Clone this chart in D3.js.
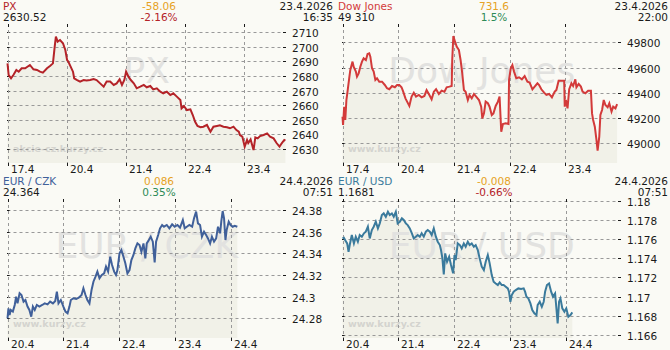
<!DOCTYPE html>
<html>
<head>
<meta charset="utf-8">
<script src="https://cdn.jsdelivr.net/npm/d3@7"></script>
<style>
  body { margin: 0; background: #fafaf5; }
  svg { display: block; font-family: "DejaVu Sans", Verdana, sans-serif; }
</style>
</head>
<body>
<script>
// --- data ---
// PX: time in trading sessions since 17.4, value in points
const pxPoints = [
  [0, 2688.7], [0.02, 2680.7], [0.06, 2678.5], [0.10, 2680.7], [0.15, 2684.2], [0.19, 2683.0], [0.24, 2685.3],
  [0.30, 2685.3], [0.38, 2687.6], [0.44, 2684.6], [0.50, 2684.2], [0.55, 2683.0], [0.60, 2682.3], [0.67, 2685.3],
  [0.72, 2686.9], [0.77, 2688.7], [0.80, 2700.2], [0.82, 2707.0], [0.85, 2703.6], [0.89, 2704.7], [0.94, 2702.5],
  [0.98, 2697.9],
  [1.01, 2691.0], [1.03, 2689.9], [1.07, 2686.5], [1.11, 2683.0], [1.13, 2678.5], [1.18, 2677.3], [1.23, 2676.2],
  [1.29, 2677.3], [1.34, 2676.9], [1.40, 2677.3], [1.46, 2678.0], [1.51, 2677.3], [1.57, 2675.0], [1.63, 2672.7],
  [1.68, 2676.2], [1.74, 2676.2], [1.80, 2673.9], [1.85, 2675.0], [1.90, 2677.8], [1.94, 2673.9], [1.98, 2677.3],
  [2.01, 2683.0], [2.05, 2679.6], [2.09, 2677.3], [2.14, 2675.0], [2.19, 2671.6], [2.25, 2672.7], [2.31, 2673.9],
  [2.36, 2672.3], [2.42, 2673.2], [2.47, 2670.9], [2.53, 2671.6], [2.59, 2669.3], [2.64, 2668.2], [2.70, 2669.3],
  [2.76, 2667.0], [2.81, 2668.2], [2.87, 2665.9], [2.93, 2663.6],
  [2.95, 2657.9], [2.99, 2659.5], [3.04, 2656.7], [3.10, 2657.2], [3.14, 2653.3], [3.18, 2648.7], [3.22, 2645.8],
  [3.27, 2644.9], [3.32, 2645.3], [3.38, 2646.5], [3.44, 2641.9], [3.49, 2645.3], [3.55, 2645.8], [3.60, 2646.2],
  [3.66, 2645.3], [3.72, 2644.9], [3.77, 2644.2], [3.83, 2645.3], [3.88, 2643.0], [3.92, 2641.9], [3.94, 2639.6],
  [3.98, 2638.5],
  [4.02, 2631.6], [4.06, 2636.2], [4.08, 2634.1], [4.12, 2636.6], [4.17, 2629.3], [4.20, 2638.0], [4.24, 2637.3],
  [4.28, 2638.9], [4.34, 2639.6], [4.40, 2640.7], [4.45, 2638.5], [4.51, 2637.3], [4.56, 2634.1], [4.61, 2631.6],
  [4.65, 2634.1], [4.69, 2636.2], [4.71, 2635.7]
];

// Dow Jones: time in sessions since 17.4
const dowPoints = [
  [0, 49211], [0.01, 49145], [0.03, 49290], [0.05, 49185], [0.07, 49343], [0.09, 49409], [0.12, 49515],
  [0.14, 49581], [0.18, 49647], [0.20, 49607], [0.24, 49568], [0.26, 49528], [0.29, 49554], [0.32, 49607],
  [0.35, 49647], [0.38, 49673], [0.42, 49660], [0.45, 49708], [0.48, 49713], [0.50, 49686], [0.53, 49594],
  [0.56, 49568], [0.59, 49502], [0.62, 49515], [0.66, 49488], [0.71, 49488], [0.76, 49462], [0.80, 49436],
  [0.84, 49428], [0.89, 49454], [0.94, 49444], [0.98, 49462],
  [1.02, 49462], [1.06, 49444], [1.09, 49409], [1.13, 49356], [1.16, 49330], [1.20, 49296], [1.24, 49370],
  [1.28, 49401], [1.32, 49370], [1.37, 49383], [1.42, 49364], [1.47, 49375], [1.51, 49422], [1.55, 49391],
  [1.60, 49349], [1.64, 49409], [1.68, 49428], [1.73, 49391], [1.78, 49417], [1.83, 49409], [1.87, 49444],
  [1.92, 49449], [1.96, 49454],
  [1.97, 49660], [1.99, 49850], [2.02, 49805], [2.05, 49766], [2.09, 49739], [2.12, 49660], [2.15, 49554],
  [2.18, 49422], [2.21, 49409], [2.25, 49343], [2.28, 49383], [2.32, 49356], [2.36, 49391], [2.40, 49370],
  [2.45, 49343], [2.49, 49290], [2.51, 49198], [2.54, 49237], [2.57, 49330], [2.61, 49317], [2.64, 49290],
  [2.68, 49224], [2.71, 49237], [2.75, 49296], [2.79, 49330], [2.82, 49370], [2.85, 49092], [2.88, 49153],
  [2.93, 49158], [2.98, 49153],
  [2.99, 49502], [3.02, 49594], [3.05, 49620], [3.08, 49568], [3.12, 49515], [3.17, 49523], [3.22, 49507],
  [3.27, 49533], [3.32, 49488], [3.36, 49481], [3.41, 49428], [3.45, 49449], [3.50, 49475], [3.53, 49462],
  [3.57, 49428], [3.62, 49401], [3.66, 49383], [3.71, 49391], [3.76, 49364], [3.81, 49409], [3.84, 49422],
  [3.88, 49496], [3.93, 49496], [3.98, 49496],
  [3.99, 49290], [4.01, 49343], [4.04, 49277], [4.07, 49428], [4.11, 49475], [4.14, 49454], [4.18, 49507],
  [4.20, 49444], [4.24, 49470], [4.28, 49449], [4.31, 49409], [4.36, 49396], [4.41, 49417], [4.46, 49417],
  [4.48, 49237], [4.50, 49185], [4.53, 49132], [4.56, 49026], [4.58, 48942], [4.61, 49053], [4.63, 49224],
  [4.66, 49264], [4.69, 49343], [4.72, 49303], [4.76, 49285], [4.79, 49317], [4.83, 49251], [4.86, 49290],
  [4.90, 49277], [4.93, 49311]
];

// EUR/CZK: time in hours since 20.4 00:00
const czkPoints = [
  [0, 24.2800], [0.4, 24.2892], [0.9, 24.2831], [1.4, 24.2877], [2.3, 24.2862], [3.1, 24.2923], [3.7, 24.3000],
  [4.3, 24.2938], [5.2, 24.3031], [6.0, 24.3015], [6.9, 24.2954], [7.7, 24.2969], [8.6, 24.2908], [9.4, 24.2877],
  [10.2, 24.2815], [10.9, 24.2908], [11.7, 24.2877], [12.6, 24.2923], [13.7, 24.2908], [14.9, 24.2923],
  [16.0, 24.2938], [17.2, 24.2929], [18.3, 24.2954], [19.5, 24.2938], [20.5, 24.2960], [21.2, 24.3046],
  [21.9, 24.2938], [22.9, 24.2969],
  [24.0, 24.2908], [24.9, 24.2862], [25.8, 24.2846], [26.6, 24.2908], [27.2, 24.2969], [28.3, 24.2985],
  [29.5, 24.2978], [30.6, 24.2991], [31.8, 24.3015], [32.6, 24.3077], [33.5, 24.3015], [34.3, 24.2969],
  [35.2, 24.2938], [36.1, 24.3062], [36.9, 24.3138], [37.8, 24.3185], [38.6, 24.3231], [39.5, 24.3169],
  [40.5, 24.3200], [41.5, 24.3215], [42.3, 24.3277], [43.2, 24.3231], [44.1, 24.3369], [44.9, 24.3292],
  [45.8, 24.3231], [46.6, 24.3200], [47.2, 24.3246],
  [48.1, 24.3400], [48.9, 24.3431], [49.8, 24.3369], [50.6, 24.3308], [51.5, 24.3215], [52.4, 24.3246],
  [53.2, 24.3338], [54.1, 24.3385], [54.9, 24.3446], [55.8, 24.3492], [56.7, 24.3477], [57.5, 24.3415],
  [58.4, 24.3492], [59.2, 24.3354], [59.8, 24.3492], [60.7, 24.3523], [61.5, 24.3554], [62.4, 24.3508],
  [63.2, 24.3317], [63.8, 24.3508], [64.7, 24.3569], [65.5, 24.3631], [66.4, 24.3662], [67.2, 24.3646],
  [68.4, 24.3662], [69.5, 24.3631], [70.7, 24.3668],
  [71.8, 24.3646], [73.0, 24.3662], [74.1, 24.3637], [75.3, 24.3708], [76.1, 24.3631], [77.0, 24.3646],
  [78.1, 24.3662], [79.3, 24.3646], [80.1, 24.3723], [81.0, 24.3785], [81.8, 24.3677], [82.7, 24.3662],
  [83.5, 24.3554], [84.4, 24.3600], [85.3, 24.3569], [86.1, 24.3538], [87.0, 24.3492], [87.8, 24.3554],
  [88.7, 24.3508], [89.6, 24.3538], [90.4, 24.3646], [91.3, 24.3585], [91.8, 24.3692], [92.4, 24.3791],
  [93.0, 24.3723], [93.6, 24.3523], [94.1, 24.3615], [95.0, 24.3692],
  [95.8, 24.3662], [96.7, 24.3646], [97.6, 24.3655], [98.7, 24.3646]
];

// EUR/USD: time in hours since 20.4 00:00
const usdPoints = [
  [0, 1.17607], [0.6, 1.17614], [1.1, 1.17590], [2.0, 1.17555], [2.6, 1.17468], [3.1, 1.17538], [4.0, 1.17642],
  [4.9, 1.17555], [5.7, 1.17625], [6.6, 1.17573], [7.4, 1.17642], [8.3, 1.17625], [9.2, 1.17660], [10.0, 1.17677],
  [10.9, 1.17729], [11.7, 1.17607], [12.6, 1.17694], [13.4, 1.17729], [14.3, 1.17781], [15.2, 1.17712],
  [16.0, 1.17764], [16.9, 1.17851], [17.7, 1.17868], [18.6, 1.17833], [19.5, 1.17885], [20.3, 1.17851],
  [21.2, 1.17868], [22.0, 1.17833], [22.9, 1.17885], [23.7, 1.17764],
  [24.6, 1.17781], [25.5, 1.17816], [26.3, 1.17799], [27.2, 1.17764], [28.0, 1.17746], [28.9, 1.17712],
  [29.8, 1.17660], [30.6, 1.17607], [31.5, 1.17625], [32.3, 1.17642], [33.2, 1.17625], [34.0, 1.17660],
  [34.9, 1.17625], [35.8, 1.17677], [36.6, 1.17694], [37.5, 1.17677], [38.3, 1.17642], [39.2, 1.17712],
  [40.1, 1.17625], [40.9, 1.17573], [41.8, 1.17538], [42.3, 1.17486], [42.9, 1.17399], [43.5, 1.17232],
  [44.1, 1.17451], [44.9, 1.17364], [45.8, 1.17416], [46.6, 1.17330], [47.5, 1.17243],
  [48.1, 1.17434], [48.6, 1.17382], [49.5, 1.17555], [50.4, 1.17538], [51.2, 1.17503], [52.1, 1.17555],
  [52.9, 1.17521], [53.8, 1.17573], [54.6, 1.17538], [55.5, 1.17555], [56.4, 1.17521], [57.2, 1.17538],
  [58.1, 1.17486], [58.9, 1.17399], [59.8, 1.17312], [60.7, 1.17277], [61.5, 1.17364], [62.4, 1.17434],
  [63.2, 1.17347], [64.1, 1.17225], [64.9, 1.17156], [65.8, 1.17138], [66.7, 1.17121], [67.5, 1.17149],
  [68.4, 1.17121], [69.2, 1.17121], [70.1, 1.17104], [71.0, 1.17086], [71.5, 1.17052],
  [72.1, 1.16947], [72.7, 1.17017], [73.5, 1.17052], [74.4, 1.17069], [75.5, 1.17086], [76.7, 1.17079],
  [77.8, 1.17086], [78.4, 1.17052], [79.0, 1.17000], [79.8, 1.16982], [80.7, 1.16930], [81.5, 1.16861],
  [82.4, 1.16826], [83.3, 1.16808], [83.8, 1.16913], [84.7, 1.16947], [85.6, 1.16895], [86.4, 1.16947],
  [87.0, 1.17052], [87.8, 1.17121], [88.7, 1.17138], [89.6, 1.17052], [90.4, 1.17000], [91.3, 1.17034],
  [91.8, 1.16895], [92.4, 1.16722], [93.0, 1.16947], [93.6, 1.16982], [94.4, 1.16878], [95.3, 1.16843],
  [96.1, 1.16878], [97.0, 1.16791], [97.9, 1.16808], [98.7, 1.16836]
];

// axis ticks and labels
const pxDays = ["17.4", "20.4", "21.4", "22.4", "23.4"];
const fxDays = ["20.4", "21.4", "22.4", "23.4", "24.4"];
const pxTicks = [2630, 2640, 2650, 2660, 2670, 2680, 2690, 2700, 2710];
const dowTicks = [49000, 49200, 49400, 49600, 49800];
const czkTicks = [24.28, 24.3, 24.32, 24.34, 24.36, 24.38];
const usdTicks = [1.166, 1.168, 1.17, 1.172, 1.174, 1.176, 1.178, 1.18];

// headers
const names = ["PX", "Dow Jones", "EUR / CZK", "EUR / USD"];
const lastValues = ["2630.52", "49 310", "24.364", "1.1681"];
const changes = ["-58.06", "731.6", "0.086", "-0.008"];
const changePct = ["-2.16%", "1.5%", "0.35%", "-0.66%"];
const dates = ["23.4.2026", "23.4.2026", "24.4.2026", "24.4.2026"];
const times = ["16:35", "22:00", "07:51", "07:51"];
const sites = ["akcie-cz.kurzy.cz", "www.kurzy.cz", "www.kurzy.cz", "www.kurzy.cz"];

const colors = ["#b42328", "#d33a3a", "#40609a", "#3a7a9c"];
const orange = "#e6a225";
const red = "#b42328";
const green = "#2e8b57";
const ink = "#1a1a1a";

const width = 670, height = 350;
const panelW = 335, panelH = 175;
const plotLeft = 7.5, plotRight = 286, plotTop = 24, plotBottom = 163;

const panels = [
  { points: pxPoints, xMax: 4.72, dayLen: 1, days: pxDays, ticks: pxTicks, yDomain: [2620.4, 2715.7] },
  { points: dowPoints, xMax: 5, dayLen: 1, days: pxDays, ticks: dowTicks, yDomain: [48844, 49945] },
  { points: czkPoints, xMax: 119.6, dayLen: 24, days: fxDays, ticks: czkTicks, yDomain: [24.2618, 24.3902] },
  { points: usdPoints, xMax: 119.6, dayLen: 24, days: fxDays, ticks: usdTicks, yDomain: [1.16569, 1.18018] }
];

const svg = d3.select("body").append("svg").attr("width", width).attr("height", height);
svg.append("rect").attr("width", width).attr("height", height).attr("fill", "#fafaf5");

panels.forEach((p, i) => {
  const g = svg.append("g")
    .attr("transform", `translate(${(i % 2) * panelW},${Math.floor(i / 2) * panelH})`);

  const x = d3.scaleLinear().domain([0, p.xMax]).range([plotLeft, plotRight]);
  const y = d3.scaleLinear().domain(p.yDomain).range([plotBottom, plotTop]);

  // area under line
  const area = d3.area()
    .x(d => x(d[0]))
    .y0(plotBottom)
    .y1(d => y(d[1]));
  g.append("path")
    .datum(p.points)
    .attr("d", area)
    .attr("fill", "#f1f1e8");

  // big watermark, drawn over the fill
  g.append("text")
    .attr("x", (plotLeft + plotRight) / 2).attr("y", 83)
    .attr("text-anchor", "middle")
    .attr("font-size", 36)
    .attr("fill", "#e2e2e0")
    .text(names[i]);

  // site watermark
  g.append("text")
    .attr("x", 13).attr("y", 152)
    .attr("font-size", 9.5)
    .attr("font-weight", "bold")
    .attr("fill", "#d4d4cf")
    .text(sites[i]);

  // horizontal grid
  p.ticks.forEach(t => {
    const yy = Math.round(y(t)) + 0.5;
    g.append("line")
      .attr("x1", plotLeft).attr("x2", plotRight - 3)
      .attr("y1", yy).attr("y2", yy)
      .attr("stroke", "#999").attr("stroke-dasharray", "3,3");
    g.append("line")
      .attr("x1", plotLeft - 0.5).attr("x2", plotLeft + 2)
      .attr("y1", yy).attr("y2", yy)
      .attr("stroke", ink);
    g.append("line")
      .attr("x1", plotRight - 3).attr("x2", plotRight)
      .attr("y1", yy).attr("y2", yy)
      .attr("stroke", ink);
    g.append("text")
      .attr("x", 292).attr("y", yy + 4)
      .attr("font-size", 10.5)
      .attr("fill", ink)
      .text(t);
  });

  // vertical grid, one per day
  p.days.forEach((label, k) => {
    const xx = Math.round(x(k * p.dayLen)) + 0.5;
    g.append("line")
      .attr("x1", xx).attr("x2", xx)
      .attr("y1", plotTop).attr("y2", plotBottom)
      .attr("stroke", "#999").attr("stroke-dasharray", "3,3");
    g.append("line")
      .attr("x1", xx).attr("x2", xx)
      .attr("y1", plotTop).attr("y2", plotTop + 3)
      .attr("stroke", ink);
    g.append("line")
      .attr("x1", xx).attr("x2", xx)
      .attr("y1", plotBottom).attr("y2", plotBottom + 3)
      .attr("stroke", ink);
    g.append("text")
      .attr("x", xx + 2.5).attr("y", 172.5)
      .attr("font-size", 10.5)
      .attr("fill", ink)
      .text(label);
  });

  // price line
  const line = d3.line()
    .x(d => x(d[0]))
    .y(d => y(d[1]));
  g.append("path")
    .datum(p.points)
    .attr("d", line)
    .attr("fill", "none")
    .attr("stroke", colors[i])
    .attr("stroke-width", 2);

  // header texts
  g.append("text").attr("x", 3).attr("y", 10)
    .attr("font-size", 10.5).attr("fill", colors[i]).text(names[i]);
  g.append("text").attr("x", 3).attr("y", 20.5)
    .attr("font-size", 10.5).attr("fill", ink).text(lastValues[i]);
  g.append("text").attr("x", 159).attr("y", 10)
    .attr("text-anchor", "middle")
    .attr("font-size", 10.5).attr("fill", orange).text(changes[i]);
  g.append("text").attr("x", 159).attr("y", 20.5)
    .attr("text-anchor", "middle")
    .attr("font-size", 10.5)
    .attr("fill", changePct[i].startsWith("-") ? red : green)
    .text(changePct[i]);
  g.append("text").attr("x", 333).attr("y", 10)
    .attr("text-anchor", "end")
    .attr("font-size", 10.5).attr("fill", ink).text(dates[i]);
  g.append("text").attr("x", 333).attr("y", 20.5)
    .attr("text-anchor", "end")
    .attr("font-size", 10.5).attr("fill", ink).text(times[i]);
});
</script>
</body>
</html>
